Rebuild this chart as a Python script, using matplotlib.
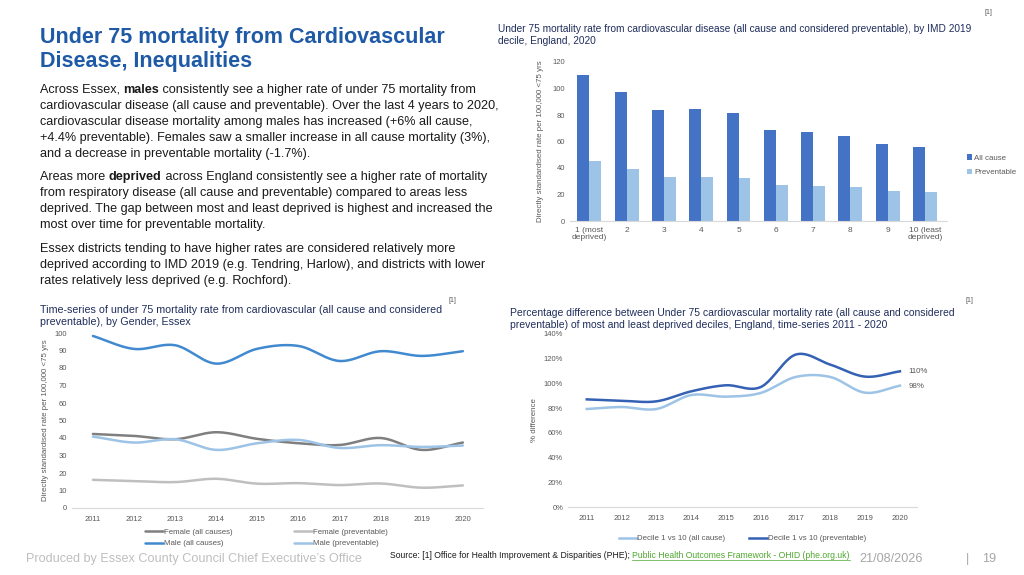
import numpy as np
import matplotlib
matplotlib.use("Agg")
import matplotlib.pyplot as plt

plt.rcParams['font.family'] = ['Liberation Sans', 'DejaVu Sans']

# --- data -------------------------------------------------------------
deciles = ["1 (most\ndeprived)", "2", "3", "4", "5", "6", "7", "8", "9", "10 (least\ndeprived)"]
decile_all_cause = [110.5, 97.4, 83.4, 84.4, 81.6, 68.5, 67.3, 64.3, 58.0, 55.7]
decile_preventable = [45.2, 39.2, 33.1, 33.1, 32.4, 27.1, 26.6, 25.4, 22.6, 21.8]

years = [2011, 2012, 2013, 2014, 2015, 2016, 2017, 2018, 2019, 2020]
female_all = [42.3, 41.2, 39.3, 43.3, 39.5, 37.0, 36.0, 40.0, 33.2, 37.4]
male_all = [98.3, 90.9, 93.0, 82.5, 91.0, 92.6, 84.0, 89.6, 86.9, 89.6]
female_prev = [16.1, 15.4, 14.8, 16.7, 13.9, 14.2, 13.1, 14.0, 11.6, 12.9]
male_prev = [40.8, 37.4, 39.3, 33.2, 37.0, 38.9, 34.3, 35.9, 34.9, 35.7]

gap_all_cause = [79.3, 80.9, 79.3, 90.6, 89.3, 92.3, 105.2, 105.2, 92.5, 98.2]
gap_preventable = [87.1, 86.0, 85.5, 93.6, 98.5, 97.1, 123.3, 115.2, 105.5, 109.8]

W, H = 1024, 575
NAVY = "#1F2D5C"
TICK = "#595959"


def smooth(x, y, n=24):
    """Catmull-Rom curve through the points (Excel style smoothed line)."""
    x = np.asarray(x, float)
    y = np.asarray(y, float)
    px = np.concatenate([[2 * x[0] - x[1]], x, [2 * x[-1] - x[-2]]])
    py = np.concatenate([[2 * y[0] - y[1]], y, [2 * y[-1] - y[-2]]])
    t = np.linspace(0, 1, n)
    xs, ys = [], []
    for i in range(1, len(px) - 2):
        for p, out in ((px, xs), (py, ys)):
            p0, p1, p2, p3 = p[i - 1], p[i], p[i + 1], p[i + 2]
            out.extend(0.5 * (2 * p1 + (-p0 + p2) * t + (2 * p0 - 5 * p1 + 4 * p2 - p3) * t ** 2
                              + (-p0 + 3 * p1 - 3 * p2 + p3) * t ** 3))
    return np.array(xs), np.array(ys)


def rect(left, top, right, bottom):
    return [left / W, (H - bottom) / H, (right - left) / W, (bottom - top) / H]


def style_axis(ax):
    for s in ["top", "right", "left"]:
        ax.spines[s].set_visible(False)
    ax.spines["bottom"].set_color("#D9D9D9")
    ax.tick_params(length=0, labelsize=5.5, colors=TICK)


fig = plt.figure(figsize=(10.24, 5.75), dpi=100)


def ftext(x, y, s, **kw):
    return fig.text(x / W, 1 - y / H, s, **kw)


# --- title and body text ---------------------------------------------
ftext(40, 38, "Under 75 mortality from Cardiovascular", fontsize=15.5, fontweight="bold",
      color="#1F5AA6", va="center")
ftext(40, 61, "Disease, Inequalities", fontsize=15.5, fontweight="bold",
      color="#1F5AA6", va="center")

renderer = fig.canvas.get_renderer()
body = [
    (89, [("Across Essex, ", False), ("males", True), (" consistently see a higher rate of under 75 mortality from", False)]),
    (105, [("cardiovascular disease (all cause and preventable). Over the last 4 years to 2020,", False)]),
    (121, [("cardiovascular disease mortality among males has increased (+6% all cause,", False)]),
    (137, [("+4.4% preventable). Females saw a smaller increase in all cause mortality (3%),", False)]),
    (153, [("and a decrease in preventable mortality (-1.7%).", False)]),
    (176, [("Areas more ", False), ("deprived", True), (" across England consistently see a higher rate of mortality", False)]),
    (192, [("from respiratory disease (all cause and preventable) compared to areas less", False)]),
    (208, [("deprived. The gap between most and least deprived is highest and increased the", False)]),
    (224, [("most over time for preventable mortality.", False)]),
    (248, [("Essex districts tending to have higher rates are considered relatively more", False)]),
    (264, [("deprived according to IMD 2019 (e.g. Tendring, Harlow), and districts with lower", False)]),
    (280, [("rates relatively less deprived (e.g. Rochford).", False)]),
]
for y, parts in body:
    x = 40
    for s, bold in parts:
        t = ftext(x, y + 4, s, fontsize=9.1, color="#1A1A1A", va="baseline",
                  fontweight="bold" if bold else "normal")
        x += t.get_window_extent(renderer).width

# --- bar chart: IMD deciles ------------------------------------------
ftext(498, 34.5, "Under 75 mortality rate from cardiovascular disease (all cause and considered preventable), by IMD 2019\ndecile, England, 2020",
      fontsize=7.3, color=NAVY, va="center", linespacing=1.25)
ftext(992, 12, "[1]", fontsize=5, color=TICK, ha="right", va="center")

ax1 = fig.add_axes(rect(570, 62, 947, 221))
pos = np.arange(len(deciles))
bw = 0.32
ax1.bar(pos - bw / 2, decile_all_cause, bw, color="#4472C4", label="All cause")
ax1.bar(pos + bw / 2, decile_preventable, bw, color="#9DC3E6", label="Preventable")
ax1.set_xlim(-0.52, 9.59)
ax1.set_ylim(0, 120)
ax1.set_yticks(range(0, 121, 20))
ax1.set_xticks(pos)
ax1.set_xticklabels(deciles, linespacing=1.0)
style_axis(ax1)
ax1.tick_params(axis="x", pad=4, labelsize=6)
ax1.set_ylabel("Directly standardised rate per 100,000 <75 yrs", fontsize=5.7, color=TICK, labelpad=6)
ax1.legend(loc="center left", bbox_to_anchor=(1.035, 0.35), frameon=False, fontsize=5.7,
           handlelength=0.6, handleheight=0.6, handletextpad=0.3, labelspacing=0.9,
           labelcolor=TICK)

# --- time-series by gender -------------------------------------------
ftext(40, 316, "Time-series of under 75 mortality rate from cardiovascular (all cause and considered\npreventable), by Gender, Essex",
      fontsize=7.65, color=NAVY, va="center", linespacing=1.25)
ftext(456, 300, "[1]", fontsize=5, color=TICK, ha="right", va="center")

ax2 = fig.add_axes(rect(72, 333, 483, 508))
series2 = [
    (female_all, "#7F7F7F", "Female (all causes)"),
    (male_all, "#418AD0", "Male (all causes)"),
    (female_prev, "#BFBFBF", "Female (preventable)"),
    (male_prev, "#9DC3E6", "Male (preventable)"),
]
for vals, col, lab in series2:
    sx, sy = smooth(years, vals)
    ax2.plot(sx, sy, color=col, lw=1.8, label=lab, solid_capstyle="round")
ax2.set_xlim(2010.49, 2020.49)
ax2.set_ylim(0, 100)
ax2.set_yticks(range(0, 101, 10))
ax2.set_xticks(years)
style_axis(ax2)
ax2.tick_params(axis="x", pad=6)
ax2.set_ylabel("Directly standardised rate per 100,000 <75 yrs", fontsize=5.7, color=TICK, labelpad=4)
ax2.legend(loc="upper center", bbox_to_anchor=(0.473, -0.075), ncol=2, frameon=False, fontsize=5.7,
           handlelength=2.2, handletextpad=0.1, columnspacing=7.85, labelspacing=0.5,
           labelcolor=TICK)

# --- percentage gap time-series --------------------------------------
ftext(510, 318.5, "Percentage difference between Under 75 cardiovascular mortality rate (all cause and considered\npreventable) of most and least deprived deciles, England, time-series 2011 - 2020",
      fontsize=7.5, color=NAVY, va="center", linespacing=1.25)
ftext(973, 300, "[1]", fontsize=5, color=TICK, ha="right", va="center")

ax3 = fig.add_axes(rect(568, 334, 917, 507))
sx, sy = smooth(years, gap_all_cause)
ax3.plot(sx, sy, color="#9DC3E6", lw=1.8, label="Decile 1 vs 10 (all cause)")
sx, sy = smooth(years, gap_preventable)
ax3.plot(sx, sy, color="#3461B3", lw=1.8, label="Decile 1 vs 10 (preventable)")
ax3.text(years[-1] + 0.25, gap_preventable[-1], f"{gap_preventable[-1]:.0f}%", fontsize=5.7,
         color=TICK, va="center")
ax3.text(years[-1] + 0.25, gap_all_cause[-1] - 1, f"{gap_all_cause[-1]:.0f}%", fontsize=5.7,
         color=TICK, va="center")
ax3.set_xlim(2010.46, 2020.49)
ax3.set_ylim(0, 140)
ax3.set_yticks(range(0, 141, 20))
ax3.set_yticklabels([f"{v}%" for v in range(0, 141, 20)])
ax3.set_xticks(years)
style_axis(ax3)
ax3.tick_params(axis="x", pad=6)
ax3.set_ylabel("% difference", fontsize=5.7, color=TICK, labelpad=4)
ax3.legend(loc="upper center", bbox_to_anchor=(0.5, -0.12), ncol=2, frameon=False, fontsize=5.7,
           handlelength=2.2, handletextpad=0.1, columnspacing=3, labelcolor=TICK)

# --- footer -----------------------------------------------------------
ftext(26, 559, "Produced by Essex County Council Chief Executive\u2019s Office", fontsize=9.1,
      color="#BFBFBF", va="center")
src = ftext(390, 555, "Source: [1] Office for Health Improvement & Disparities (PHE); ", fontsize=6.2,
            color="#1A1A1A", va="center")
lx = 390 + src.get_window_extent(renderer).width
link = ftext(lx, 555, "Public Health Outcomes Framework - OHID (phe.org.uk)", fontsize=6.2,
             color="#4EA72E", va="center")
lw_px = link.get_window_extent(renderer).width
fig.add_artist(plt.Line2D([lx / W, (lx + lw_px) / W], [1 - 559.5 / H, 1 - 559.5 / H],
                          color="#4EA72E", lw=0.5))
ftext(859, 559, "21/08/2026", fontsize=9.1, color="#A6A6A6", va="center")
ftext(966, 559, "|", fontsize=9.1, color="#A6A6A6", va="center")
ftext(982, 559, "19", fontsize=9.1, color="#A6A6A6", va="center")

fig.savefig("out.png", dpi=100)
